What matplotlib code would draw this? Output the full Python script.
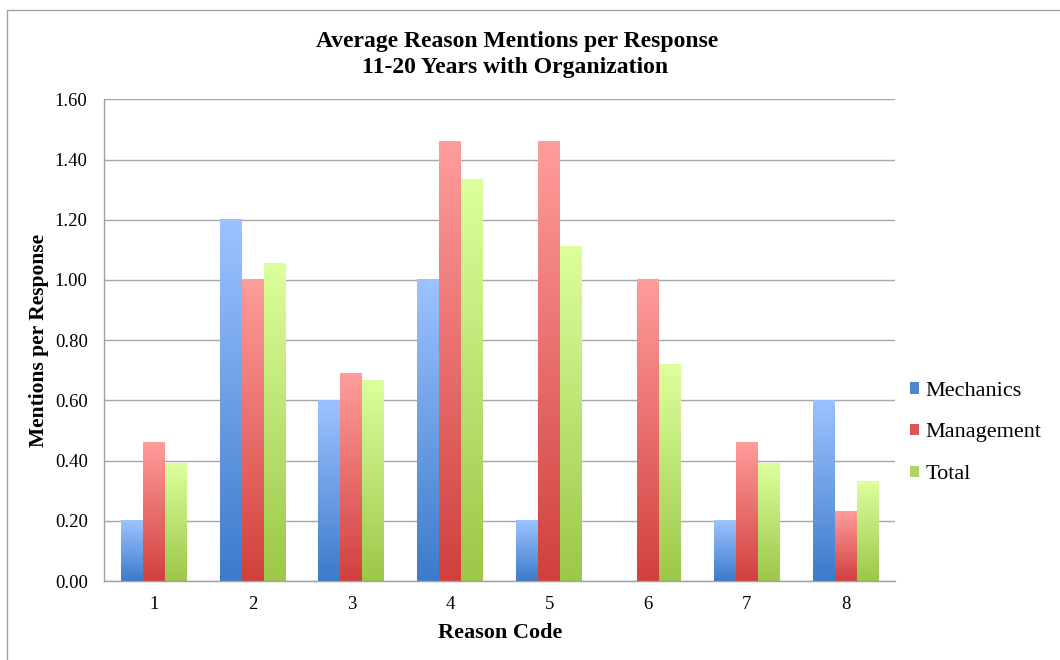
import numpy as np
import matplotlib.pyplot as plt
from matplotlib.colors import LinearSegmentedColormap
from matplotlib.patches import Patch, Rectangle

plt.rcParams["font.family"] = ["Liberation Serif", "DejaVu Serif"]

reason_codes = ["1", "2", "3", "4", "5", "6", "7", "8"]
mechanics = [0.20, 1.20, 0.60, 1.00, 0.20, 0.00, 0.20, 0.60]
management = [0.46, 1.00, 0.69, 1.46, 1.46, 1.00, 0.46, 0.23]
total = [0.39, 1.055, 0.665, 1.335, 1.11, 0.72, 0.39, 0.33]
series_names = ["Mechanics", "Management", "Total"]

# dark (bottom) -> light (top)
grads = [("#3B7BCB", "#9DC3FF"), ("#D1403D", "#FF9D9B"), ("#9CC748", "#DDFF9D")]
swatch = ["#4F86D2", "#DA5553", "#AFD564"]

fig = plt.figure(figsize=(10.6, 6.6), dpi=100)
ax = fig.add_axes([104.3 / 1060, 79 / 660, 790.7 / 1060, 481.7 / 660])

x = np.arange(len(reason_codes))
w = 0.222
grad = np.linspace(0, 1, 256).reshape(-1, 1)
for i, vals in enumerate([mechanics, management, total]):
    cmap = LinearSegmentedColormap.from_list(f"g{i}", grads[i])
    bars = ax.bar(x + (i - 1) * w, vals, w, color="none", edgecolor="none", zorder=2)
    for b in bars:
        h = b.get_height()
        if h <= 0:
            continue
        x0 = b.get_x()
        ax.imshow(grad, cmap=cmap, extent=[x0, x0 + w, 0, h], aspect="auto",
                  origin="lower", zorder=2, interpolation="bilinear")

ax.set_xlim(-0.5, len(reason_codes) - 0.5)
ax.set_ylim(0, 1.6)
ax.set_yticks(np.arange(0, 1.61, 0.2))
ax.set_yticklabels([f"{v:.2f}" for v in np.arange(0, 1.61, 0.2)])
ax.set_xticks(x)
ax.set_xticklabels(reason_codes)
ax.tick_params(length=0, labelsize=13.5, pad=12)
ax.tick_params(axis="x", pad=11)
ax.grid(axis="y", color="#A6A6A6", linewidth=1, zorder=0)
ax.set_axisbelow(True)
for s in ["top", "right"]:
    ax.spines[s].set_visible(False)
for s in ["left", "bottom"]:
    ax.spines[s].set_color("#A0A0A0")
    ax.spines[s].set_linewidth(1)

fig.text(517 / 1060, 1 - 41 / 660, "Average Reason Mentions per Response",
         ha="center", va="center", fontsize=17, fontweight="bold")
fig.text(515 / 1060, 1 - 68 / 660, "11-20 Years with Organization",
         ha="center", va="center", fontsize=17, fontweight="bold")
fig.text(39 / 1060, 1 - 340 / 660, "Mentions per Response", rotation=90,
         ha="center", va="center", fontsize=15.5, fontweight="bold")
fig.text(500 / 1060, 1 - 633 / 660, "Reason Code",
         ha="center", va="center", fontsize=16, fontweight="bold")

handles = [Patch(facecolor=c, edgecolor="none") for c in swatch]
fig.legend(handles, series_names, loc="center left",
           bbox_to_anchor=(901 / 1060, 1 - 433 / 660), frameon=False,
           fontsize=16, handlelength=0.4, handleheight=0.4,
           handletextpad=0.3, labelspacing=1.02, borderaxespad=0)

fig.add_artist(Rectangle((6.5 / 1060, -0.1), 1.2, 1 - 9.5 / 660 + 0.1,
                         transform=fig.transFigure, fill=False,
                         edgecolor="#A0A0A0", linewidth=1))

fig.savefig("out.png", dpi=100)
